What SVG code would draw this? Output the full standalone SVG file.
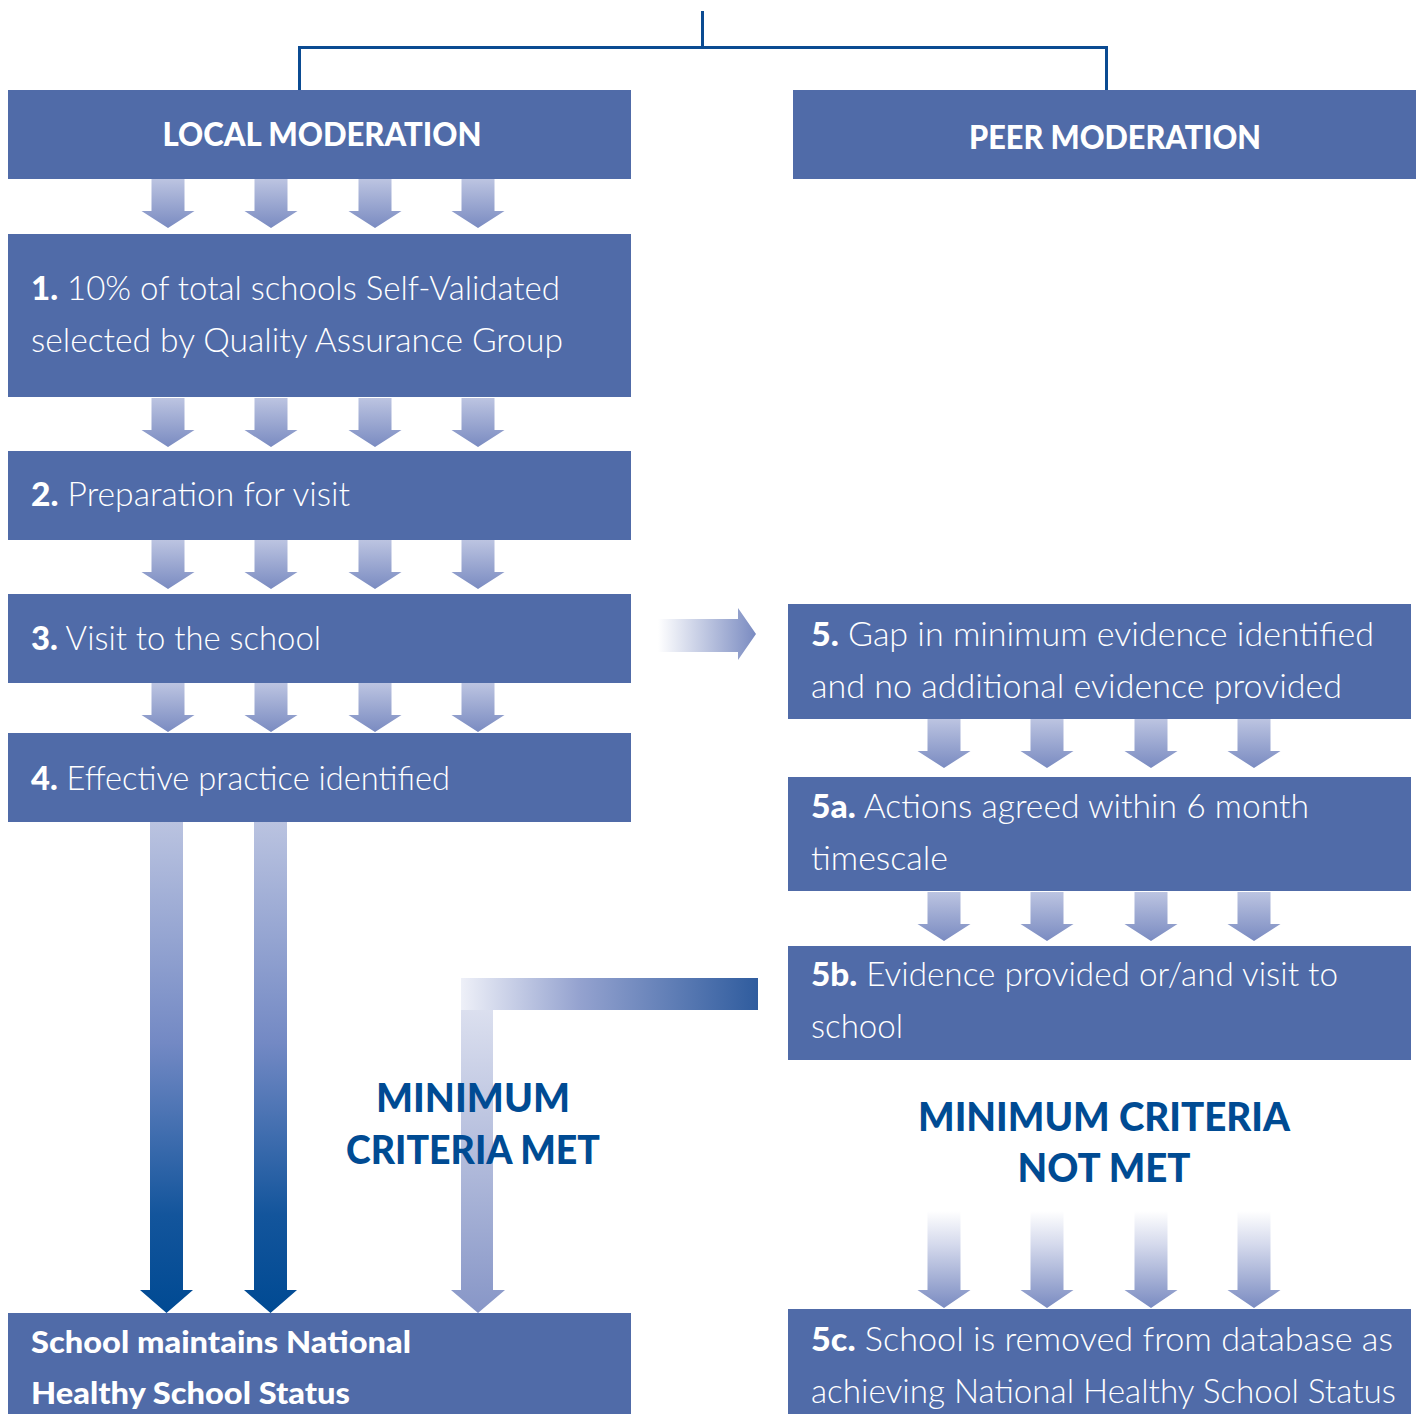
<svg xmlns="http://www.w3.org/2000/svg" xmlns:xlink="http://www.w3.org/1999/xlink" width="1422" height="1414" viewBox="0 0 1422 1414">
<style>
.box{fill:#506BA8}
.hd{font-family:Lato,"Liberation Sans",Arial,sans-serif;font-weight:900;font-size:33px;fill:#FFFFFF}
.tx{font-family:Lato,"Liberation Sans",Arial,sans-serif;font-weight:300;font-size:33px;fill:#FFFFFF}
.tx .n{font-weight:900}
.bd{font-family:Lato,"Liberation Sans",Arial,sans-serif;font-weight:900;font-size:31px;fill:#FFFFFF}
.lbl{font-family:Lato,"Liberation Sans",Arial,sans-serif;font-weight:900;font-size:40px;fill:#004B93;text-anchor:middle}
.line{fill:none;stroke:#0B4B92;stroke-width:3}
</style>
<defs>
<linearGradient id="gSmall" x1="0" y1="0" x2="0" y2="1">
<stop offset="0" stop-color="#BCC4E1"/>
<stop offset="1" stop-color="#7A8BC1"/>
</linearGradient>
<linearGradient id="gFade" x1="0" y1="0" x2="0" y2="1">
<stop offset="0" stop-color="#FFFFFF"/>
<stop offset="0.35" stop-color="#D4D9EC"/>
<stop offset="1" stop-color="#7A8BC1"/>
</linearGradient>
<linearGradient id="gLong" x1="0" y1="0" x2="0" y2="1">
<stop offset="0" stop-color="#BAC3E0"/>
<stop offset="0.45" stop-color="#7389C4"/>
<stop offset="0.8" stop-color="#13559C"/>
<stop offset="1" stop-color="#004A93"/>
</linearGradient>
<linearGradient id="gRight" x1="0" y1="0" x2="1" y2="0">
<stop offset="0" stop-color="#FFFFFF"/>
<stop offset="1" stop-color="#7A8BC1"/>
</linearGradient>
<linearGradient id="gLh" gradientUnits="userSpaceOnUse" x1="461" y1="0" x2="758" y2="0">
<stop offset="0" stop-color="#EEF0F8"/>
<stop offset="0.4" stop-color="#94A2CF"/>
<stop offset="1" stop-color="#2F5C9E"/>
</linearGradient>
<linearGradient id="gLv" gradientUnits="userSpaceOnUse" x1="0" y1="978" x2="0" y2="1313">
<stop offset="0" stop-color="#E4E7F3"/>
<stop offset="1" stop-color="#8796C7"/>
</linearGradient>
<path id="sa" d="M-16.5 0H16.5V32H26.5L0 49L-26.5 32H-16.5Z" fill="url(#gSmall)"/>
<path id="fa" d="M-16.5 0H16.5V79H26.5L0 97L-26.5 79H-16.5Z" fill="url(#gFade)"/>
<path id="la" d="M-16.5 0H16.5V468H26.5L0 491L-26.5 468H-16.5Z" fill="url(#gLong)"/>
</defs>

<g id="connectors">
<path class="line" d="M702.5 11V47"/>
<path class="line" d="M299.5 90V47.5H1106.5V90"/>
<g id="arrows-local">
<use href="#sa" x="168" y="179"/><use href="#sa" x="271" y="179"/><use href="#sa" x="375" y="179"/><use href="#sa" x="478" y="179"/>
<use href="#sa" x="168" y="398"/><use href="#sa" x="271" y="398"/><use href="#sa" x="375" y="398"/><use href="#sa" x="478" y="398"/>
<use href="#sa" x="168" y="540"/><use href="#sa" x="271" y="540"/><use href="#sa" x="375" y="540"/><use href="#sa" x="478" y="540"/>
<use href="#sa" x="168" y="683"/><use href="#sa" x="271" y="683"/><use href="#sa" x="375" y="683"/><use href="#sa" x="478" y="683"/>
</g>
<g id="arrows-peer">
<use href="#sa" x="944" y="719"/><use href="#sa" x="1047" y="719"/><use href="#sa" x="1151" y="719"/><use href="#sa" x="1254" y="719"/>
<use href="#sa" x="944" y="892"/><use href="#sa" x="1047" y="892"/><use href="#sa" x="1151" y="892"/><use href="#sa" x="1254" y="892"/>
<use href="#fa" x="944" y="1211"/><use href="#fa" x="1047" y="1211"/><use href="#fa" x="1151" y="1211"/><use href="#fa" x="1254" y="1211"/>
</g>
<g id="arrows-met">
<use href="#la" x="166.5" y="822"/>
<use href="#la" x="270.5" y="822"/>
</g>
<path id="arrow-3-5" d="M658 619H738V608L756 634L738 660V652H658Z" fill="url(#gRight)"/>
<g id="arrow-5b-met">
<path d="M461 1010H493V1290H505L478 1313L451 1290H461Z" fill="url(#gLv)"/>
<rect x="461" y="978" width="297" height="32" fill="url(#gLh)"/>
</g>
</g>

<g id="local-moderation">
<rect class="box" x="8" y="90" width="623" height="89"/>
<text class="hd" x="322" y="146" text-anchor="middle" textLength="319" lengthAdjust="spacingAndGlyphs">LOCAL MODERATION</text>
</g>
<g id="peer-moderation">
<rect class="box" x="793" y="90" width="623" height="89"/>
<text class="hd" x="1115" y="149" text-anchor="middle" textLength="292" lengthAdjust="spacingAndGlyphs">PEER MODERATION</text>
</g>
<g id="step1">
<rect class="box" x="8" y="234" width="623" height="163"/>
<text class="tx" x="31" y="300" textLength="529" lengthAdjust="spacingAndGlyphs"><tspan class="n">1.</tspan>  10% of total schools Self-Validated</text>
<text class="tx" x="31" y="352" textLength="532" lengthAdjust="spacingAndGlyphs">selected by Quality Assurance Group</text>
</g>
<g id="step2">
<rect class="box" x="8" y="451" width="623" height="89"/>
<text class="tx" x="31" y="506" textLength="319" lengthAdjust="spacingAndGlyphs"><tspan class="n">2.</tspan> Preparation for visit</text>
</g>
<g id="step3">
<rect class="box" x="8" y="594" width="623" height="89"/>
<text class="tx" x="31" y="650" textLength="290" lengthAdjust="spacingAndGlyphs"><tspan class="n">3.</tspan> Visit to the school</text>
</g>
<g id="step4">
<rect class="box" x="8" y="733" width="623" height="89"/>
<text class="tx" x="31" y="790" textLength="419" lengthAdjust="spacingAndGlyphs"><tspan class="n">4.</tspan> Effective practice identified</text>
</g>
<g id="maintains">
<rect class="box" x="8" y="1313" width="623" height="101"/>
<text class="bd" x="31" y="1353" textLength="380" lengthAdjust="spacingAndGlyphs">School maintains National</text>
<text class="bd" x="31" y="1404" textLength="319" lengthAdjust="spacingAndGlyphs">Healthy School Status</text>
</g>
<g id="step5">
<rect class="box" x="788" y="604" width="623" height="115"/>
<text class="tx" x="811" y="646" textLength="563" lengthAdjust="spacingAndGlyphs"><tspan class="n">5.</tspan> Gap in minimum evidence identified</text>
<text class="tx" x="811" y="698" textLength="531" lengthAdjust="spacingAndGlyphs">and no additional evidence provided</text>
</g>
<g id="step5a">
<rect class="box" x="788" y="777" width="623" height="114"/>
<text class="tx" x="811" y="818" textLength="498" lengthAdjust="spacingAndGlyphs"><tspan class="n">5a.</tspan> Actions agreed within 6 month</text>
<text class="tx" x="811" y="870" textLength="137" lengthAdjust="spacingAndGlyphs">timescale</text>
</g>
<g id="step5b">
<rect class="box" x="788" y="946" width="623" height="114"/>
<text class="tx" x="811" y="986" textLength="527" lengthAdjust="spacingAndGlyphs"><tspan class="n">5b.</tspan> Evidence provided or/and visit to</text>
<text class="tx" x="811" y="1038" textLength="92" lengthAdjust="spacingAndGlyphs">school</text>
</g>
<g id="step5c">
<rect class="box" x="788" y="1309" width="623" height="105"/>
<text class="tx" x="811" y="1351" textLength="582" lengthAdjust="spacingAndGlyphs"><tspan class="n">5c.</tspan> School is removed from database as</text>
<text class="tx" x="811" y="1403" textLength="585" lengthAdjust="spacingAndGlyphs">achieving National Healthy School Status</text>
</g>
<g id="label-met">
<text class="lbl" x="473" y="1112" textLength="194" lengthAdjust="spacingAndGlyphs">MINIMUM</text>
<text class="lbl" x="473" y="1164" textLength="254" lengthAdjust="spacingAndGlyphs">CRITERIA MET</text>
</g>
<g id="label-not-met">
<text class="lbl" x="1104" y="1131" textLength="372" lengthAdjust="spacingAndGlyphs">MINIMUM CRITERIA</text>
<text class="lbl" x="1104" y="1182" textLength="173" lengthAdjust="spacingAndGlyphs">NOT MET</text>
</g>
</svg>
